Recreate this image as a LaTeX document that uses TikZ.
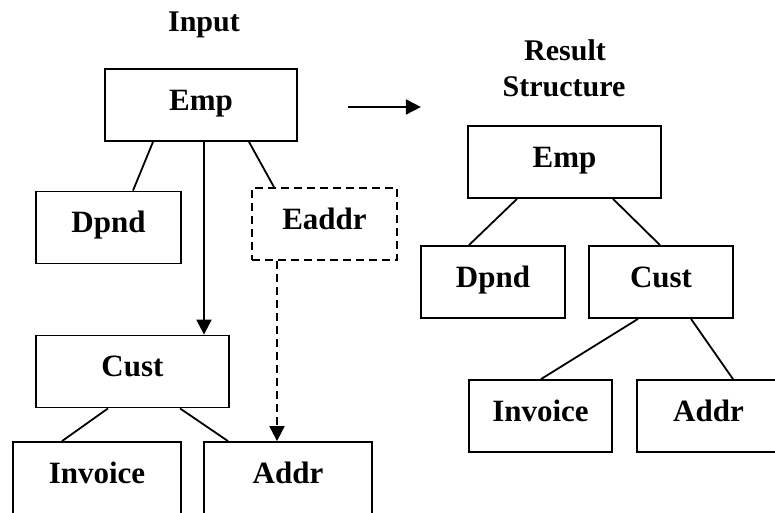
\documentclass[tikz,border=0pt]{standalone}
\usepackage{fontspec}
\setmainfont{Liberation Serif}
\usetikzlibrary{positioning, arrows.meta, calc}

\begin{document}
\begin{tikzpicture}[x=1pt, y=-1pt,
            box/.style={draw=black, line width=1.8pt, rectangle, minimum height=72pt, inner sep=0pt, text height=20.5pt, text depth=10pt, font=\fontsize{31}{36}\selectfont\bfseries},
            dashbox/.style={box, dash pattern=on 8pt off 5pt},
            title/.style={inner sep=0pt, font=\fontsize{30}{36}\selectfont\bfseries},
            edge/.style={line width=1.8pt},
            pfeil/.style={edge, -{Triangle[width=15pt, length=15pt]}}
        ]

        \useasboundingbox (0,0) rectangle (775,513);
        \clip (0,0) rectangle (775,513);

        % Titel
        \node[title, anchor=base] (input) at (204,32) {Input};
        \node[title, anchor=base] (result) at (565,61) {Result};
        \node[title, anchor=base] (structure) at (564,97) {Structure};

        % Knoten links
        \node[box, minimum width=192pt] (emp) at (201,105) {Emp};
        \node[box, minimum width=145pt] (dpnd) at (108.5,227.5) {Dpnd};
        \node[dashbox, minimum width=145pt] (eaddr) at (324.5,224) {Eaddr};
        \node[box, minimum width=193pt] (cust) at (132.5,371.5) {Cust};
        \node[box, minimum width=168pt] (invoice) at (97,478) {Invoice};
        \node[box, minimum width=168pt] (addr) at (288,478) {Addr};

        % Knoten rechts
        \node[box, minimum width=193pt] (remp) at (564.5,162) {Emp};
        \node[box, minimum width=144pt] (rdpnd) at (493,282) {Dpnd};
        \node[box, minimum width=144pt] (rcust) at (661,282) {Cust};
        \node[box, minimum width=143pt] (rinvoice) at (540.5,416) {Invoice};
        \node[box, minimum width=143pt] (raddr) at (708.5,416) {Addr};

        % Kanten links
        \draw[edge] ([xshift=-48pt]emp.south) -- ([xshift=24.5pt]dpnd.north);
        \draw[edge] ([xshift=48pt]emp.south) -- ([xshift=-50.5pt]eaddr.north);
        \draw[pfeil] ([xshift=3pt]emp.south) -- ([xshift=3pt]emp.south |- cust.north);
        \draw[pfeil, dash pattern=on 8pt off 5pt] ([xshift=-47.5pt]eaddr.south) -- ([xshift=-47.5pt]eaddr.south |- addr.north);
        \draw[edge] ([xshift=-24.5pt]cust.south) -- ([xshift=-35pt]invoice.north);
        \draw[edge] ([xshift=47.5pt]cust.south) -- ([xshift=-60pt]addr.north);

        % Uebergang
        \draw[pfeil] ([xshift=50pt, yshift=-2pt]emp.east) -- ++(73,0);

        % Kanten rechts
        \draw[edge] ([xshift=-47.5pt]remp.south) -- ([xshift=-24pt]rdpnd.north);
        \draw[edge] ([xshift=48.5pt]remp.south) -- ([xshift=-1pt]rcust.north);
        \draw[edge] ([xshift=-23pt]rcust.south) -- ([xshift=0.5pt]rinvoice.north);
        \draw[edge] ([xshift=30pt]rcust.south) -- ([xshift=24.5pt]raddr.north);

    \end{tikzpicture}
\end{document}
